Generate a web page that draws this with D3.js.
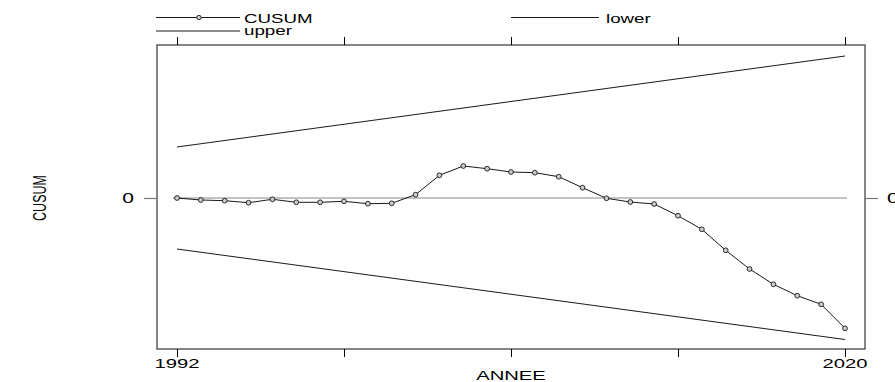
<!DOCTYPE html>
<html><head><meta charset="utf-8">
<script src="https://cdn.jsdelivr.net/npm/d3@7"></script>
<style>
html,body{margin:0;padding:0;background:#fff;overflow:hidden}
text{font-family:"Liberation Sans",Arial,sans-serif;fill:#000}
</style></head>
<body><svg id="c" width="895" height="382"></svg>
<script>
// ---- data ----
const years = [1992,1993,1994,1995,1996,1997,1998,1999,2000,2001,2002,2003,2004,2005,2006,2007,2008,2009,2010,2011,2012,2013,2014,2015,2016,2017,2018,2019,2020];
const cusum = [0.0,-0.2,-0.27,-0.47,-0.13,-0.43,-0.43,-0.33,-0.57,-0.53,0.33,2.27,3.2,2.93,2.6,2.53,2.13,1.03,-0.03,-0.4,-0.6,-1.77,-3.13,-5.23,-7.1,-8.63,-9.77,-10.63,-13.03];
const boundYears = [1992, 2020];
const upper = [5.1, 14.2];
const lower = [-5.1, -14.15];
const xTicks = [1992,1999,2006,2013,2020];
const xTickLabels = ["1992","","","","2020"];
const yTicks = [0];
const yTickLabels = ["0"];
const legendItems = ["CUSUM","upper","lower"];

// ---- layout ----
const svg = d3.select("#c");
const box = {l:157, r:865, t:45, b:349};
const SX = 1.5; // horizontal stretch of text
const x = d3.scaleLinear().domain([1992,2020]).range([177,845]);
const y = d3.scaleLinear().domain([-15.1,15.3]).range([box.b, box.t]);

function stext(g, tx, ty, str, size, anchor){
  return g.append("text").attr("transform",`translate(${tx},${ty}) scale(${SX},1)`)
    .attr("font-size",size).attr("text-anchor",anchor||"start").text(str);
}

// box
svg.append("rect").attr("x",box.l).attr("y",box.t).attr("width",box.r-box.l).attr("height",box.b-box.t)
  .attr("fill","none").attr("stroke","#444").attr("stroke-width",1.3);

// x axes (bottom and top)
const axB = svg.append("g").attr("transform",`translate(0,${box.b})`)
  .call(d3.axisBottom(x).tickValues(xTicks).tickSize(8).tickFormat(""));
const axT = svg.append("g").attr("transform",`translate(0,${box.t})`)
  .call(d3.axisTop(x).tickValues(xTicks).tickSize(8).tickFormat(""));
[axB,axT].forEach(a=>{a.select(".domain").remove(); a.selectAll("line").attr("stroke","#000").attr("stroke-width",1);});
xTicks.forEach((v,i)=>{ if(xTickLabels[i]) stext(svg, x(v), 368, xTickLabels[i], 13.5, "middle"); });

// y axes left/right
const axL = svg.append("g").attr("transform",`translate(${box.l},0)`)
  .call(d3.axisLeft(y).tickValues(yTicks).tickSize(13).tickFormat(""));
const axR = svg.append("g").attr("transform",`translate(${box.r},0)`)
  .call(d3.axisRight(y).tickValues(yTicks).tickSize(13).tickFormat(""));
[axL,axR].forEach(a=>{a.select(".domain").remove(); a.selectAll("line").attr("stroke","#777").attr("stroke-width",1.2);});
yTicks.forEach((v,i)=>{
  stext(svg, 128, y(v)+5, yTickLabels[i], 14, "middle");
  stext(svg, 887, y(v)+5, yTickLabels[i], 14, "start");
});

// zero reference line
svg.append("line").attr("x1",x(1992)-4).attr("x2",x(2020)+2).attr("y1",y(0)).attr("y2",y(0))
  .attr("stroke","#888").attr("stroke-width",1.2);

// bounds
const bline = d3.line().x((d,i)=>x(boundYears[i])).y(d=>y(d));
svg.append("path").attr("d",bline(upper)).attr("fill","none").attr("stroke","#000").attr("stroke-width",0.9);
svg.append("path").attr("d",bline(lower)).attr("fill","none").attr("stroke","#000").attr("stroke-width",0.9);

// cusum
const cl = d3.line().x((d,i)=>x(years[i])).y(d=>y(d));
svg.append("path").attr("d",cl(cusum)).attr("fill","none").attr("stroke","#000").attr("stroke-width",0.9);
svg.selectAll("circle.p").data(cusum).join("circle").attr("class","p")
  .attr("cx",(d,i)=>x(years[i])).attr("cy",d=>y(d)).attr("r",2.4)
  .attr("fill","#ccc").attr("stroke","#000").attr("stroke-width",0.8);

// axis titles
stext(svg, (box.l+box.r)/2, 380, "ANNEE", 13.5, "middle");
svg.append("text").attr("transform",`translate(46,${y(0)}) scale(${SX},1) rotate(-90)`)
  .attr("font-size",12.5).attr("text-anchor","middle").text("CUSUM");

// legend
const lg = svg.append("g");
function legLine(x1,x2,yy){ lg.append("line").attr("x1",x1).attr("x2",x2).attr("y1",yy).attr("y2",yy).attr("stroke","#000").attr("stroke-width",0.9); }
legLine(156,240,17.5);
lg.append("circle").attr("cx",199).attr("cy",17.5).attr("r",2.2).attr("fill","#ccc").attr("stroke","#000").attr("stroke-width",0.8);
stext(lg, 244, 22.5, legendItems[0], 12.5);
legLine(156,240,31);
stext(lg, 244, 35, legendItems[1], 12.5);
legLine(511,599,17.5);
stext(lg, 606, 22.5, legendItems[2], 12.5);
</script></body></html>
